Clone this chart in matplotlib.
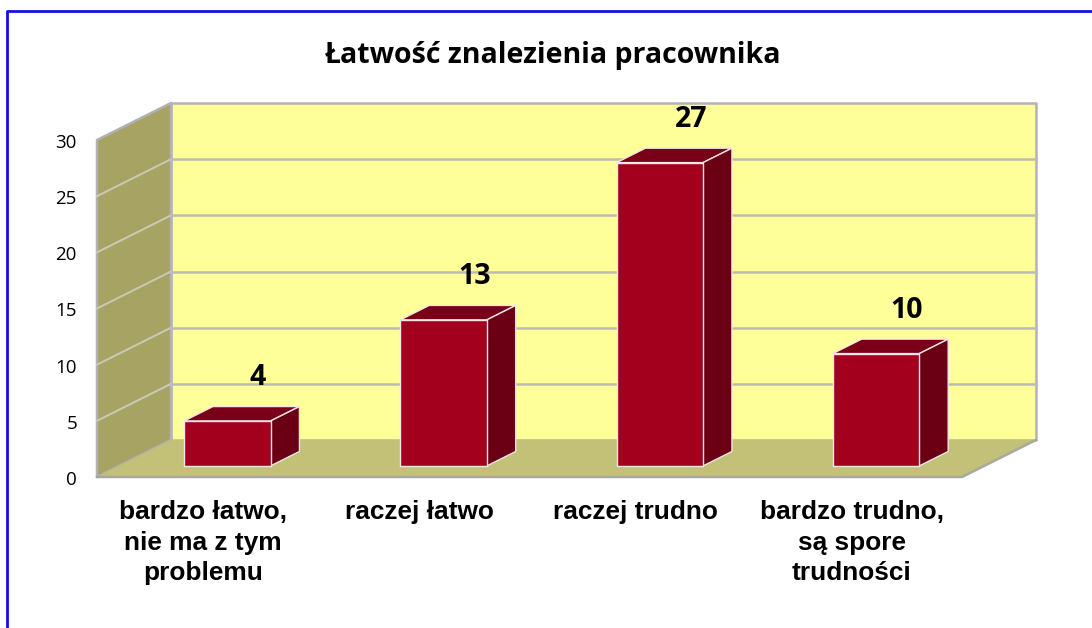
import matplotlib
matplotlib.use("Agg")
import matplotlib.pyplot as plt
from matplotlib.lines import Line2D
from matplotlib.patches import Polygon

categories = ["bardzo łatwo,\nnie ma z tym\nproblemu", "raczej łatwo", "raczej trudno",
              "bardzo trudno,\nsą spore\ntrudności"]
values = [4, 13, 27, 10]
y_ticks = [0, 5, 10, 15, 20, 25, 30]
title = "Łatwość znalezienia pracownika"

W, H = 1092, 628
fig = plt.figure(figsize=(W / 100, H / 100), dpi=100, facecolor="white")

# front plane of the box: x 97..962, y 477..140 in pixels
ax = fig.add_axes([97 / W, 1 - 477 / H, 865 / W, 337 / H])
ax.set_xlim(-0.5, 3.5)
ax.set_ylim(0, 30)
ax.axis("off")

# shift of full depth, in data units
dx = 74 / (865 / 4)
dy = 37 / (337 / 30)


def pt(x, y, d=0):
    return (x + d * dx, y + d * dy)


def face(pts, fc, ec="none", lw=0, z=1):
    ax.add_patch(Polygon(pts, closed=True, facecolor=fc, edgecolor=ec, linewidth=lw,
                         zorder=z, clip_on=False, joinstyle="round"))


def edge(pts, color, lw, z=2):
    xs, ys = zip(*pts)
    ax.add_line(Line2D(xs, ys, color=color, lw=lw, zorder=z, clip_on=False))


grey = "#b2b2b2"
xl, xr = -0.5, 3.5

# back wall, side wall, floor
face([pt(xl, 0, 1), pt(xr, 0, 1), pt(xr, 30, 1), pt(xl, 30, 1)], "#ffff99", grey, 1.8)
face([pt(xl, 0), pt(xl, 0, 1), pt(xl, 30, 1), pt(xl, 30)], "#a6a363", grey, 1.8)
face([pt(xl, 0), pt(xr, 0), pt(xr, 0, 1), pt(xl, 0, 1)], "#c2c177")
edge([pt(xl, 0), pt(xr, 0), pt(xr, 0, 1)], "#a8a8a0", 1.8)

# gridlines along side wall and back wall
for t in y_ticks[1:-1]:
    edge([pt(xl, t), pt(xl, t, 1)], "#c8c8b4", 1.5)
    edge([pt(xl, t, 1), pt(xr, t, 1)], "#bcbcb0", 1.8)

# bars
bar_w = 0.4
d0, d1 = 0.3, 0.69
for i, v in enumerate(values):
    a, b = i - bar_w / 2, i + bar_w / 2
    face([pt(a, v, d0), pt(b, v, d0), pt(b, v, d1), pt(a, v, d1)], "#7a0018", "#f4e6e6", 1, 3)
    face([pt(b, 0, d0), pt(b, 0, d1), pt(b, v, d1), pt(b, v, d0)], "#6b0015", "#f4e6e6", 1, 3)
    face([pt(a, 0, d0), pt(b, 0, d0), pt(b, v, d0), pt(a, v, d0)], "#a3001e", "#f4e6e6", 1, 4)
    lx, ly = pt(i, v, d1)
    ax.annotate(str(v), (lx, ly), xytext=(2, 29), textcoords="offset pixels", ha="center",
                va="center", fontsize=20.5, fontweight="bold", family="Open Sans", color="black",
                annotation_clip=False, zorder=5)

# axis labels
for t in y_ticks:
    ax.annotate(str(t), (xl, t), xytext=(-20, -3), textcoords="offset pixels", ha="right",
                va="center", fontsize=13.5, family="Open Sans", color="black", annotation_clip=False)
for i, c in enumerate(categories):
    ax.annotate(c, (i, 0), xytext=(-2, -23), textcoords="offset pixels", ha="center", va="top",
                fontsize=18.9, fontweight="bold", family="Liberation Sans", color="black",
                linespacing=1.35, annotation_clip=False)

fig.text(552 / W, 1 - 55 / H, title, ha="center", va="center", fontsize=20.5, fontweight="bold",
         family="Open Sans", color="black")

# chart frame, open at the right
fig.add_artist(Line2D([6.5 / W, 6.5 / W, 1], [0, 1 - 11 / H, 1 - 11 / H], color="#1010e0", lw=2))

fig.savefig("out.png", dpi=100, facecolor="white")
